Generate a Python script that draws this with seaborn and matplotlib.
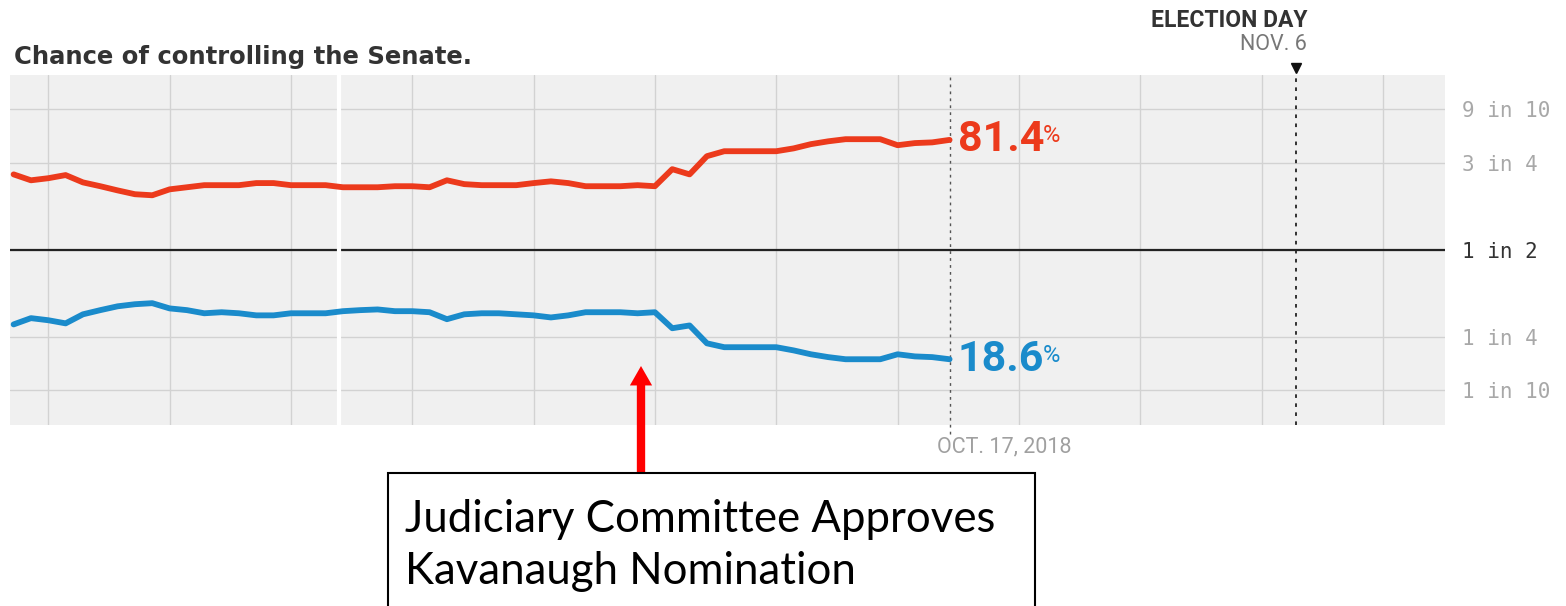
import numpy as np
import pandas as pd
import seaborn as sns
import matplotlib.pyplot as plt
from matplotlib.patches import Rectangle

# daily forecast, Aug 24 - Oct 17 2018 (percent chance of controlling the Senate)
dates = pd.date_range('2018-08-24', '2018-10-17', freq='D')
rep = [71.6, 69.9, 70.5, 71.4, 69.3, 68.2, 67.0, 65.9, 65.6, 67.3,
       67.9, 68.5, 68.5, 68.5, 69.1, 69.1, 68.5, 68.5, 68.5, 67.9,
       67.9, 67.9, 68.2, 68.2, 67.9, 69.9, 68.8, 68.5, 68.5, 68.5,
       69.1, 69.6, 69.1, 68.2, 68.2, 68.2, 68.5, 68.2, 73.1, 71.6,
       76.8, 78.2, 78.2, 78.2, 78.2, 79.0, 80.2, 81.0, 81.6, 81.6,
       81.6, 79.9, 80.5, 80.7, 81.4]
dem = [28.5, 30.3, 29.7, 28.8, 31.4, 32.6, 33.7, 34.3, 34.6, 33.1,
       32.6, 31.7, 32.0, 31.7, 31.1, 31.1, 31.7, 31.7, 31.7, 32.3,
       32.6, 32.8, 32.3, 32.3, 32.0, 30.0, 31.4, 31.7, 31.7, 31.4,
       31.1, 30.5, 31.1, 32.0, 32.0, 32.0, 31.7, 32.0, 27.4, 28.2,
       23.1, 22.0, 22.0, 22.0, 22.0, 21.1, 20.0, 19.2, 18.6, 18.6,
       18.6, 20.0, 19.4, 19.2, 18.6]
rep_label = '81.4'
dem_label = '18.6'

prob_ticks = [10, 25, 50, 75, 90]
tick_labels = ['1 in 10', '1 in 4', '1 in 2', '3 in 4', '9 in 10']
week_lines = pd.date_range('2018-08-26', '2018-11-11', freq='7D')
today = pd.Timestamp('2018-10-17')
election = pd.Timestamp('2018-11-06')
break_day = pd.Timestamp('2018-09-11 18:00')

# odds-style vertical scale (piecewise linear between the labelled odds)
scale_p = [0, 10, 25, 50, 75, 90, 100]
scale_u = [-2.6, -1.61, -1.0, 0, 1.0, 1.61, 2.6]
fwd = lambda p: np.interp(p, scale_p, scale_u)
inv = lambda u: np.interp(u, scale_u, scale_p)

RED = '#ec3a1c'
BLUE = '#1a8bcb'

df = pd.DataFrame({'date': list(dates) * 2,
                   'chance': rep + dem,
                   'party': ['R'] * len(rep) + ['D'] * len(dem)})

sns.set_style('white')
fig = plt.figure(figsize=(15.66, 6.06), dpi=100)
ax = fig.add_axes([10 / 1566, 181 / 606, 1435 / 1566, 350 / 606])
ax.set_facecolor('#f0f0f0')

sns.lineplot(data=df, x='date', y='chance', hue='party',
             palette={'R': RED, 'D': BLUE}, linewidth=4.2,
             legend=False, ax=ax, zorder=5)

ax.set_yscale('function', functions=(fwd, inv))
ax.set_ylim(5.9, 94.0)
ax.set_xlim(pd.Timestamp('2018-08-23 19:00'), pd.Timestamp('2018-11-14 14:00'))
for s in ax.spines.values():
    s.set_visible(False)

ax.set_xticks(week_lines)
ax.set_xticklabels([])
ax.yaxis.tick_right()
ax.set_yticks(prob_ticks)
ax.set_yticklabels(tick_labels, family='DejaVu Sans Mono')
ax.minorticks_off()
ax.tick_params(axis='both', length=0)
ax.tick_params(axis='y', pad=12, labelsize=15, labelcolor='#a8a8a8')
ax.get_yticklabels()[2].set_color('#333333')
ax.grid(True, color='#d2d2d2', linewidth=1)
ax.set_xlabel('')
ax.set_ylabel('')

ax.axhline(50, color='#222222', linewidth=1.6, zorder=3)
ax.axvline(break_day, color='white', linewidth=3, zorder=4)
ax.axvline(today, ymin=-0.025, ymax=1, color='#555555', linewidth=1,
           linestyle=(0, (2, 3)), clip_on=False, zorder=4)
ax.axvline(election, color='#222222', linewidth=1.3,
           linestyle=(0, (2, 3)), zorder=4)
ax.plot([election], [1.02], marker='v', color='#111111', markersize=7,
        transform=ax.get_xaxis_transform(), clip_on=False)

# end labels
fig.canvas.draw()
for val, lab, col in [(rep[-1], rep_label, RED), (dem[-1], dem_label, BLUE)]:
    t = ax.annotate(lab, xy=(today, val), xytext=(6, 0), textcoords='offset points',
                    va='center', ha='left', fontsize=31, fontweight='bold',
                    color=col, family='Roboto')
    fig.canvas.draw()
    bb = t.get_window_extent()
    fig.text(bb.x1 - 2, bb.y1 - 5, '%', fontsize=17, color=col, family='Roboto',
             ha='left', va='top', transform=None)

ax.annotate('OCT. 17, 2018', xy=(today, 0), xycoords=('data', 'axes fraction'),
            xytext=(-9, -16), textcoords='offset points', ha='left', va='center',
            fontsize=15.5, color='#a0a0a0', family='Roboto')
ax.annotate('ELECTION DAY', xy=(election, 1), xycoords=('data', 'axes fraction'),
            xytext=(8, 39), textcoords='offset points', ha='right', va='center',
            fontsize=16.5, fontweight='bold', color='#333333', family='Roboto')
ax.annotate('NOV. 6', xy=(election, 1), xycoords=('data', 'axes fraction'),
            xytext=(8, 22), textcoords='offset points', ha='right', va='center',
            fontsize=15.5, color='#777777', family='Roboto')

fig.text(14 / 1566, 1 - 57 / 606, 'Chance of controlling the Senate.',
         fontsize=17.5, fontweight='bold', color='#333333', family='DejaVu Sans',
         ha='left', va='center')

# callout
ax.annotate('', xy=(641, 606 - 366), xycoords='figure pixels',
            xytext=(641, 606 - 472), textcoords='figure pixels',
            arrowprops=dict(arrowstyle='simple,head_width=1.6,head_length=1.4,tail_width=0.6',
                            color='#ff0000', lw=0, shrinkA=0, shrinkB=0))
fig.add_artist(Rectangle((388 / 1566, -0.02), (1035 - 388) / 1566, (606 - 473) / 606 + 0.02,
                         transform=fig.transFigure, facecolor='white',
                         edgecolor='black', linewidth=1.5))
fig.text(405 / 1566, 1 - 520 / 606, 'Judiciary Committee Approves',
         fontsize=31.5, family='Lato', color='black', ha='left', va='center')
fig.text(405 / 1566, 1 - 572 / 606, 'Kavanaugh Nomination',
         fontsize=31.5, family='Lato', color='black', ha='left', va='center')

fig.savefig('out.png', dpi=100, facecolor='white')
